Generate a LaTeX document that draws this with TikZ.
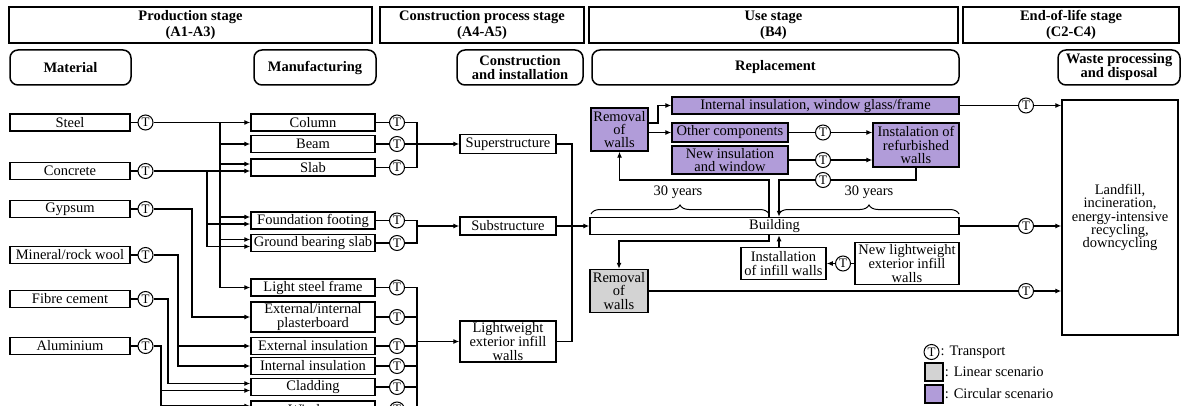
\documentclass[tikz,border=0pt]{standalone}
\usepackage{fontspec}
\setmainfont{Liberation Serif}
\usetikzlibrary{arrows.meta,decorations.pathreplacing}
\definecolor{circpurple}{RGB}{177,156,217}
\definecolor{lingrey}{RGB}{211,211,211}
\begin{document}
\begin{tikzpicture}[x=1pt,y=-1pt,
  every node/.style={font=\fontsize{14.5}{13.3}\selectfont},
  box/.style={draw,line width=1.5pt,inner sep=0pt,minimum height=17pt,align=center},
  stagebox/.style={box,minimum height=36pt,font=\bfseries\fontsize{14.5}{16}\selectfont},
  phasebox/.style={box,rounded corners=8pt,minimum height=35pt,font=\bfseries\fontsize{14.5}{14}\selectfont},
  matbox/.style={box,minimum width=120pt},
  manbox/.style={box,minimum width=124pt},
  conbox/.style={box,minimum width=96pt},
  circbox/.style={box,fill=circpurple},
  linbox/.style={box,fill=lingrey},
  tr/.style={circle,draw,fill=white,line width=1pt,inner sep=0pt,minimum size=15pt,font=\fontsize{13}{13}\selectfont},
  link/.style={line width=1.1pt},
  arr/.style={link,-{Latex[length=6pt,width=5pt]}},
  yrs/.style={decorate,decoration={brace,amplitude=9pt},line width=1pt}]
\useasboundingbox (0,0) rectangle (1182,406) ;
\clip (0,0) rectangle (1182,406) ;

\node[stagebox,minimum width=363pt] (prod) at (190.5,25) {Production stage\\(A1-A3)} ;
\node[stagebox,minimum width=204pt] (constr) at (482,25) {Construction process stage\\(A4-A5)} ;
\node[stagebox,minimum width=369pt] (use) at (773.5,25) {Use stage\\(B4)} ;
\node[stagebox,minimum width=216pt] (eol) at (1071,25) {End-of-life stage\\(C2-C4)} ;

\node[phasebox,minimum width=121pt] (material) at (70.5,67.5) {Material} ;
\node[phasebox,minimum width=122pt] (manuf) at (315,67.5) {Manufacturing} ;
\node[phasebox,minimum width=126pt] (constrph) at (520,67.5) {Construction\\and installation} ;
\node[phasebox,minimum width=367pt] (replace) at (775.5,67.5) {Replacement} ;
\node[phasebox,minimum width=122pt] (waste) at (1119,67.5) {Waste processing\\and disposal} ;

\node[matbox] (steel) at (70,122.5) {Steel} ;
\node[matbox] (concrete) at (70,171) {Concrete} ;
\node[matbox] (gypsum) at (70,209) {Gypsum} ;
\node[matbox] (wool) at (70,255) {Mineral/rock wool} ;
\node[matbox] (fibre) at (70,299) {Fibre cement} ;
\node[matbox] (alu) at (70,346) {Aluminium} ;
\foreach \m in {steel,concrete,gypsum,wool,fibre,alu} {
  \node[tr] (t\m) at (\m -| 145.5,0) {T} ;
  \draw[link] (\m) -- (t\m) ; }

\node[manbox] (column) at (313,122.5) {Column} ;
\node[manbox] (beam) at (313,144) {Beam} ;
\node[manbox] (slab) at (313,167.5) {Slab} ;
\node[manbox] (footing) at (313,220.5) {Foundation footing} ;
\node[manbox] (gbslab) at (313,243) {Ground bearing slab} ;
\node[manbox] (frame) at (313,287.5) {Light steel frame} ;
\node[manbox,minimum height=30pt] (board) at (313,317) {External/internal\\plasterboard} ;
\node[manbox] (extins) at (313,346) {External insulation} ;
\node[manbox] (intins) at (313,366) {Internal insulation} ;
\node[manbox] (cladding) at (313,387) {Cladding} ;
\node[manbox] (window) at (313,409.5) {Window} ;
\foreach \m in {column,beam,slab,footing,gbslab,frame,board,extins,intins,cladding,window} {
  \node[tr] (t\m) at (\m -| 397,0) {T} ;
  \draw[link] (\m) -- (t\m) ; }

\node[conbox,minimum height=19pt] (super) at (508,144) {Superstructure} ;
\node[conbox,minimum height=18pt] (sub) at (508,226) {Substructure} ;
\node[conbox,minimum height=41pt] (infill) at (508,341.5) {Lightweight\\exterior infill\\walls} ;

\node[circbox,minimum width=57pt,minimum height=43pt] (removal) at (619.5,129.5) {Removal\\of\\walls} ;
\node[circbox,minimum width=287pt] (glass) at (815.5,105.5) {Internal insulation, window glass/frame} ;
\node[circbox,minimum width=116pt,minimum height=19pt] (other) at (730,132.5) {Other components} ;
\node[circbox,minimum width=116pt,minimum height=28pt] (newins) at (730,160) {New insulation\\and window} ;
\node[circbox,minimum width=86pt,minimum height=44pt] (refurb) at (916,145) {Instalation of\\refurbished\\walls} ;
\node[tr] (tother) at (823,132.5) {T} ;
\node[tr] (tnewins) at (823,160) {T} ;
\node[tr] (trefurb) at (823,180) {T} ;
\node (yrs1) at (678,192) {30 years} ;
\node (yrs2) at (869,192) {30 years} ;
\node[box,minimum width=369pt] (building) at (774.5,226) {Building} ;
\node[linbox,minimum width=58pt,minimum height=43pt] (removal2) at (619,291) {Removal\\of\\walls} ;
\node[box,minimum width=85pt,minimum height=32pt] (install) at (783.5,263.5) {Installation\\of infill walls} ;
\node[tr] (tnewwall) at (843,263.5) {T} ;
\node[box,minimum width=104pt,minimum height=42pt] (newwall) at (907,263.5) {New lightweight\\exterior infill\\walls} ;

\node[box,minimum width=116pt,minimum height=235pt] (landfill) at (1120,217.5) {Landfill,\\incineration,\\energy-intensive\\recycling,\\downcycling} ;
\node[tr] (tglass) at (1026,105.5) {T} ;
\node[tr] (tbuilding) at (1026,226) {T} ;
\node[tr] (tremoval) at (1026,291) {T} ;

\draw[arr] (tsteel) -- (column) ;
\coordinate (bsteel) at (tsteel -| 220,0) ;
\foreach \t in {beam,frame} \draw[arr] (bsteel) |- (\t) ;
\foreach \t in {slab,footing,gbslab} \draw[arr] (bsteel) |- ([yshift=3.5pt]\t.west) ;
\draw[arr] (tconcrete) -- ([yshift=-3.5pt]slab.west) ;
\coordinate (bconcrete) at (tconcrete -| 207,0) ;
\foreach \t in {footing,gbslab} \draw[arr] (bconcrete) |- ([yshift=-3.5pt]\t.west) ;
\draw[arr] (tgypsum) -| (board -| 192,0) -- (board) ;
\coordinate (bwool) at (extins -| 178,0) ;
\draw[arr] (twool) -| (bwool) -- (extins) ;
\draw[arr] (bwool) |- (intins) ;
\coordinate (cladin1) at ([yshift=3.5pt]cladding.west) ;
\coordinate (cladin2) at ([yshift=-3.5pt]cladding.west) ;
\draw[arr] (tfibre) -| (cladin1 -| 168,0) -- (cladin1) ;
\coordinate (balu) at (cladin2 -| 161,0) ;
\draw[arr] (talu) -| (balu) -- (cladin2) ;
\draw[arr] (balu) |- ([yshift=3.5pt]window.west) ;

\draw[link] (tcolumn) -| (tslab -| 417,0) -- (tslab) ;
\draw[arr] (tbeam) -- (super) ;
\draw[link] (tfooting) -| (tgbslab -| 417,0) -- (tgbslab) ;
\draw[arr] (sub -| 417,0) -- (sub) ;
\draw[link] (tframe) -| (417,430) ;
\foreach \m in {board,extins,intins,cladding,window} \draw[link] (t\m) -- (t\m -| 417,0) ;
\draw[arr] (infill -| 417,0) -- (infill) ;
\draw[link] (super) -| (sub -| 572,0) ;
\draw[link] (infill) -| (sub -| 572,0) ;
\draw[arr] (sub) -- (building) ;

\draw[arr] (removal.east |- other) -- (other) ;
\draw[arr] (removal.east |- 0,123) -| (glass -| 658,0) -- (glass) ;
\draw[link] (other) -- (tother) ;
\draw[arr] (tother) -- (tother -| refurb.west) ;
\draw[link] (newins) -- (tnewins) ;
\draw[arr] (tnewins) -- (tnewins -| refurb.west) ;
\draw[link] (refurb) |- (trefurb) ;
\draw[arr] (trefurb) -| (building.north -| 779,0) ;
\draw[arr] (building.north -| 769,0) |- (removal |- 0,180) -- (removal) ;
\draw[yrs] (591,214) -- (769,214) ;
\draw[yrs] (779,214) -- (959,214) ;
\draw[arr] (building.south -| 769,0) |- (removal2 |- 0,241) -- (removal2) ;
\draw[arr] (install.north -| 779,0) -- (building.south -| 779,0) ;
\draw[link] (newwall) -- (tnewwall) ;
\draw[arr] (tnewwall) -- (install) ;
\draw[link] (glass) -- (tglass) ;
\draw[arr] (tglass) -- (tglass -| landfill.west) ;
\draw[link] (building) -- (tbuilding) ;
\draw[arr] (tbuilding) -- (tbuilding -| landfill.west) ;
\draw[link] (removal2) -- (tremoval) ;
\draw[arr] (tremoval) -- (tremoval -| landfill.west) ;

\node[tr] (legt) at (931.5,352) {T} ;
\node[anchor=west,inner sep=1pt] (legtt) at (legt.east) {: Transport} ;
\node[linbox,minimum width=18pt,minimum height=18pt] (legl) at (934,372) {} ;
\node[anchor=west,inner sep=1pt] (leglt) at (legl.east) {: Linear scenario} ;
\node[circbox,minimum width=18pt,minimum height=18pt] (legc) at (934,394) {} ;
\node[anchor=west,inner sep=1pt] (legct) at (legc.east) {: Circular scenario} ;
\end{tikzpicture}
\end{document}
